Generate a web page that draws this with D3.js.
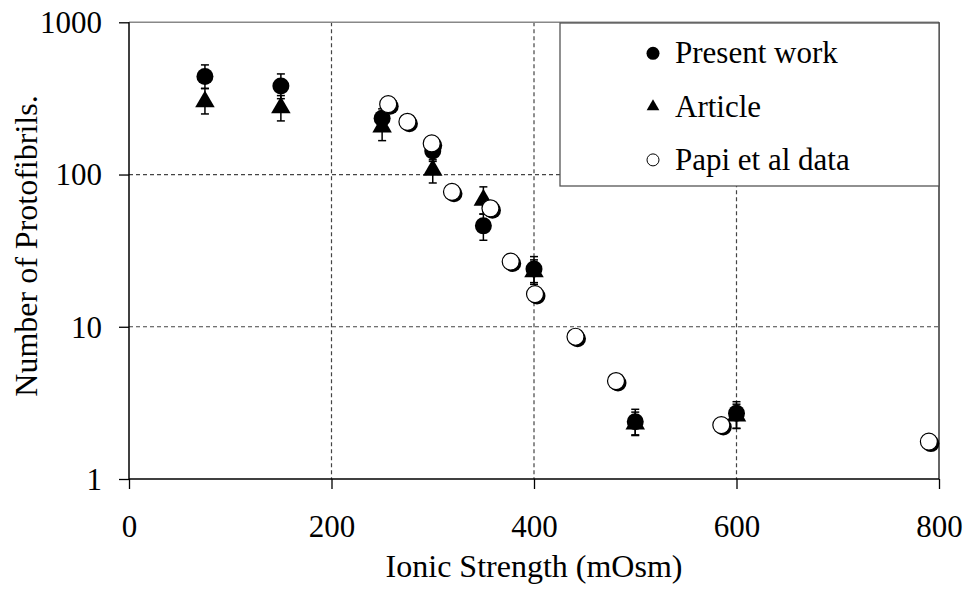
<!DOCTYPE html>
<html><head><meta charset="utf-8">
<script src="https://cdn.jsdelivr.net/npm/d3@7"></script>
<style>body{margin:0;background:#fff}svg text{font-family:"Liberation Serif","Times New Roman",serif}</style>
</head><body>
<svg id="c" width="966" height="590"></svg>
<script>
const xTicks = [0, 200, 400, 600, 800];
const yTicks = [1, 10, 100, 1000];
const xGrid = [200, 400, 600];
const yGrid = [10, 100];

const presentX  = [75, 150, 250, 300, 350, 400, 500, 600];
const presentY  = [440, 382, 234, 143, 46, 24, 2.38, 2.70];
const presentHi = [525, 458, 270, 165, 55, 28.9, 2.87, 3.22];
const presentLo = [368, 315, 200, 122, 37, 19.5, 1.93, 2.15];

const articleX  = [75, 150, 250, 300, 350, 400, 500, 600];
const articleY  = [301, 275, 206, 107, 68, 23, 2.3, 2.6];
const articleHi = [367, 330, 245, 125, 83, 27.5, 2.75, 3.1];
const articleLo = [250, 225, 167, 88, 55, 19, 1.95, 2.15];

const papiX = [256, 275, 299, 319, 357, 377, 401, 441, 481, 585, 790];
const papiY = [290, 222, 160, 77, 60, 26.8, 16.4, 8.6, 4.4, 2.26, 1.76];

const legendLabels = ["Present work", "Article", "Papi et al data"];

const svg = d3.select("#c");
const L = 129, R = 939, T = 22.3, B = 479;
const x = d3.scaleLinear().domain([0, 800]).range([L, R]);
const y = d3.scaleLog().domain([1, 1000]).range([B, T]);

// grid
svg.append("g").selectAll("line").data(xGrid).join("line")
  .attr("x1", d => x(d)).attr("x2", d => x(d)).attr("y1", T).attr("y2", B)
  .attr("stroke", "#444").attr("stroke-width", 1.2).attr("stroke-dasharray", "4,3");
svg.append("g").selectAll("line").data(yGrid).join("line")
  .attr("x1", L).attr("x2", R).attr("y1", d => y(d)).attr("y2", d => y(d))
  .attr("stroke", "#444").attr("stroke-width", 1.2).attr("stroke-dasharray", "4,3");

// top & right border
svg.append("line").attr("x1", L).attr("x2", R).attr("y1", T).attr("y2", T)
  .attr("stroke", "#888").attr("stroke-width", 1.5);
svg.append("line").attr("x1", R).attr("x2", R).attr("y1", T).attr("y2", B)
  .attr("stroke", "#333").attr("stroke-width", 1.5);

// axes
const fs = 31;
const xAxis = d3.axisBottom(x).tickValues(xTicks).tickSize(10).tickPadding(26).tickFormat(d3.format("d"));
const gx = svg.append("g").attr("transform", `translate(0,${B})`).call(xAxis);
const yAxis = d3.axisLeft(y).tickValues(yTicks).tickSize(10).tickPadding(17).tickFormat(d3.format("d"));
const gy = svg.append("g").attr("transform", `translate(${L},0)`).call(yAxis);
[gx, gy].forEach(g => {
  g.attr("font-family", null).attr("font-size", null);
  g.select(".domain").attr("stroke", "#000").attr("stroke-width", 1.5);
  g.selectAll(".tick line").attr("stroke", "#000").attr("stroke-width", 1.3);
  g.selectAll("text").attr("font-family", "Liberation Serif").attr("font-size", fs).attr("fill", "#000");
});
gx.selectAll("text").attr("dy", null).attr("y", 58);
gy.selectAll("text").attr("dy", "0.33em");
gx.select(".domain").attr("d", `M${L},0H${R}`);
gy.select(".domain").attr("d", `M0,${B}V${T}`);

// axis titles
svg.append("text").attr("x", (L + R) / 2).attr("y", 577).attr("text-anchor", "middle")
  .attr("font-size", 32).text("Ionic Strength (mOsm)");
svg.append("text").attr("transform", `translate(37,246) rotate(-90)`)
  .attr("text-anchor", "middle").attr("font-size", 32).text("Number of Protofibrils.");

// error bars helper
function errBars(xs, lo, hi) {
  const g = svg.append("g").attr("stroke", "#000").attr("stroke-width", 1.5);
  xs.forEach((xv, i) => {
    const cx = x(xv), y1 = y(lo[i]), y2 = y(hi[i]);
    g.append("line").attr("x1", cx).attr("x2", cx).attr("y1", y1).attr("y2", y2);
    g.append("line").attr("x1", cx - 4).attr("x2", cx + 4).attr("y1", y1).attr("y2", y1);
    g.append("line").attr("x1", cx - 4).attr("x2", cx + 4).attr("y1", y2).attr("y2", y2);
  });
}
errBars(presentX, presentLo, presentHi);
errBars(articleX, articleLo, articleHi);

// present work: filled circles
svg.append("g").selectAll("circle").data(presentX).join("circle")
  .attr("cx", d => x(d)).attr("cy", (d, i) => y(presentY[i])).attr("r", 8.5).attr("fill", "#000");

// article: triangles
const tri = d3.symbol().type(d3.symbolTriangle).size(165);
svg.append("g").selectAll("path").data(articleX).join("path")
  .attr("d", tri).attr("transform", (d, i) => `translate(${x(d)},${y(articleY[i])})`).attr("fill", "#000");

// papi: open circles with shadow
const pg = svg.append("g");
papiX.forEach((xv, i) => {
  const cx = x(xv), cy = y(papiY[i]);
  pg.append("circle").attr("cx", cx + 2).attr("cy", cy + 2).attr("r", 8.5).attr("fill", "#000");
  pg.append("circle").attr("cx", cx).attr("cy", cy).attr("r", 8.5).attr("fill", "#fff")
    .attr("stroke", "#000").attr("stroke-width", 1.2);
});

// legend
const lg = svg.append("g");
lg.append("rect").attr("x", 560).attr("y", 23).attr("width", 379).attr("height", 163)
  .attr("fill", "#fff").attr("stroke", "#555").attr("stroke-width", 1.3);
legendLabels.forEach((t, i) => {
  const by = 63.3 + i * 53.3, my = by - 10, mx = 653;
  if (i === 0) lg.append("circle").attr("cx", mx).attr("cy", my).attr("r", 6.5).attr("fill", "#000");
  if (i === 1) lg.append("path").attr("d", d3.symbol().type(d3.symbolTriangle).size(70))
    .attr("transform", `translate(${mx},${my})`).attr("fill", "#000");
  if (i === 2) lg.append("circle").attr("cx", mx).attr("cy", my).attr("r", 6).attr("fill", "#fff")
    .attr("stroke", "#000").attr("stroke-width", 1);
  lg.append("text").attr("x", 675).attr("y", by).attr("font-size", fs).text(t);
});
</script>
</body></html>
